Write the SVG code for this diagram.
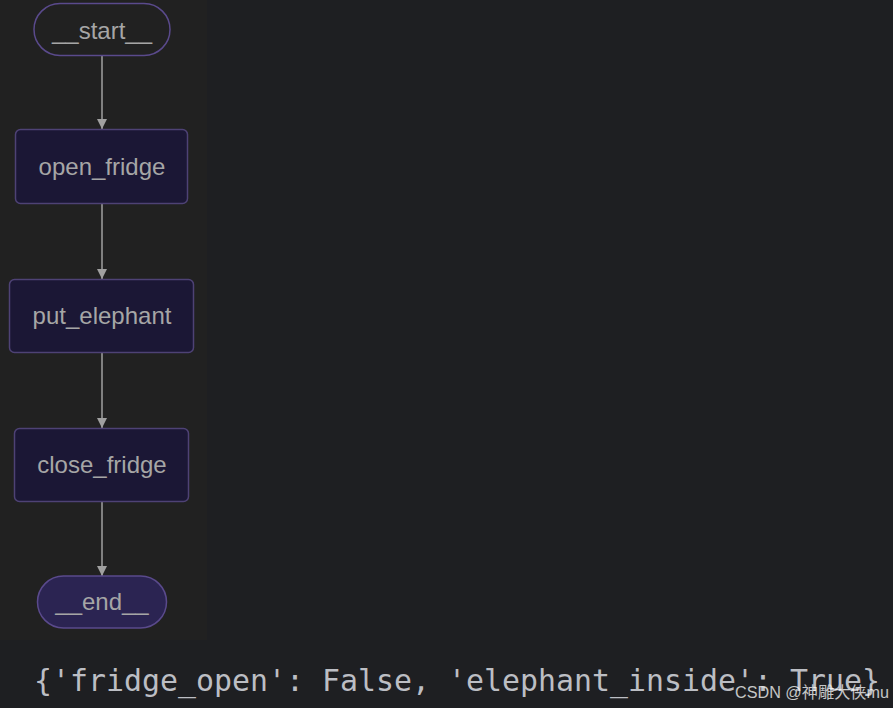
<svg xmlns="http://www.w3.org/2000/svg" width="893" height="708" viewBox="0 0 893 708">
<style>
.lbl{font-family:"Liberation Sans",Arial,sans-serif;font-size:24px;fill:#a6a6a6;text-anchor:middle;dominant-baseline:central}
.box{fill:#1b1735;stroke:#4e4275;stroke-width:1.5}
.edge{stroke:#a0a0a0;stroke-width:1.5;fill:none;marker-end:url(#ah)}
</style>
<defs>
<marker id="ah" viewBox="0 0 10 10" refX="10" refY="5" markerWidth="10" markerHeight="10" markerUnits="userSpaceOnUse" orient="auto">
<path d="M0,0 L10,5 L0,10 z" fill="#a0a0a0"/>
</marker>
</defs>
<rect width="893" height="708" fill="#1e1f22"/>
<rect x="0" y="0" width="207" height="640" fill="#212121"/>
<g id="edges">
<line class="edge" x1="102" y1="56" x2="102" y2="129"/>
<line class="edge" x1="102" y1="204" x2="102" y2="279"/>
<line class="edge" x1="102" y1="353" x2="102" y2="428"/>
<line class="edge" x1="102" y1="502" x2="102" y2="576"/>
</g>
<g id="start">
<rect x="34" y="3.5" width="136" height="52" rx="26" fill="#212121" stroke="#5a4a8c" stroke-width="1.5"/>
<text class="lbl" x="102" y="30">__start__</text>
</g>
<g id="open_fridge">
<rect class="box" x="15.5" y="129.5" width="172" height="74" rx="5"/>
<text class="lbl" x="102" y="166">open_fridge</text>
</g>
<g id="put_elephant">
<rect class="box" x="9.5" y="279.5" width="184" height="73" rx="5"/>
<text class="lbl" x="102" y="315">put_elephant</text>
</g>
<g id="close_fridge">
<rect class="box" x="14.5" y="428.5" width="174" height="73" rx="5"/>
<text class="lbl" x="102" y="464">close_fridge</text>
</g>
<g id="end">
<rect x="37.5" y="576" width="129" height="52" rx="26" fill="#2b2452" stroke="#5a4a8c" stroke-width="1.5"/>
<text class="lbl" x="102" y="601">__end__</text>
</g>
<text x="34" y="691" font-family="'DejaVu Sans Mono','Liberation Mono',monospace" font-size="30" fill="#bcbec4" textLength="846" lengthAdjust="spacingAndGlyphs">{'fridge_open': False, 'elephant_inside': True}</text>
<text x="735" y="698" font-family="'Liberation Sans','Noto Sans CJK SC',sans-serif" font-size="16" fill="#ffffff" fill-opacity="0.75" textLength="154" lengthAdjust="spacingAndGlyphs">CSDN @神雕大侠mu</text>
</svg>
